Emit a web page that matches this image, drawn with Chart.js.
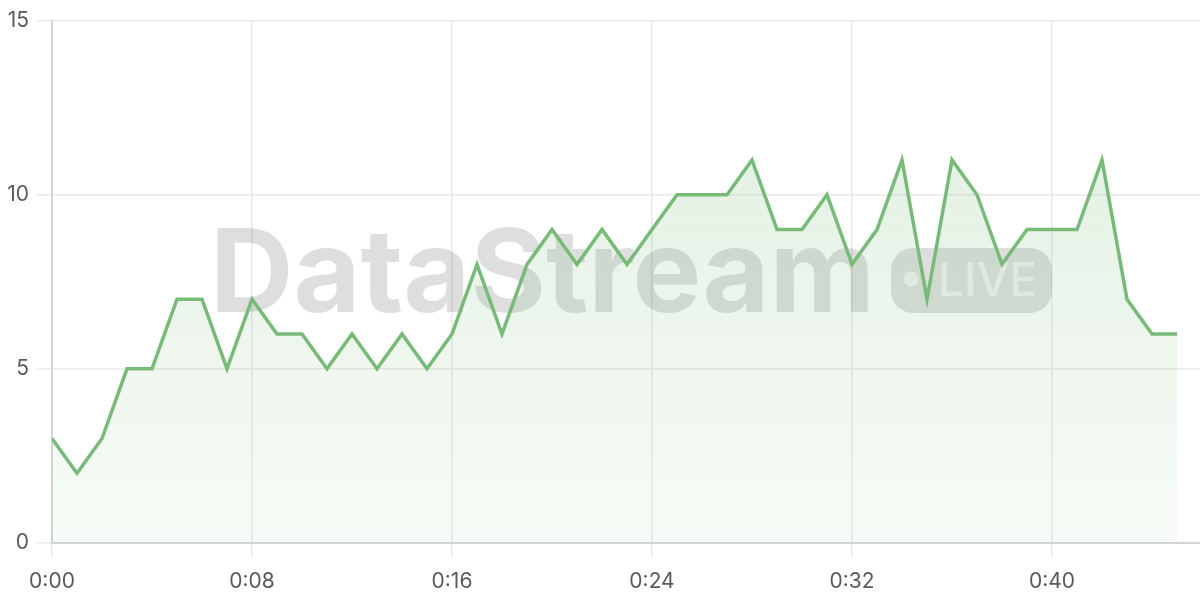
<!DOCTYPE html>
<html>
<head>
<meta charset="utf-8">
<script src="https://cdn.jsdelivr.net/npm/chart.js@4"></script>
<style>
  html, body { margin: 0; padding: 0; background: #fff; }
  #wrap { width: 1200px; height: 600px; }
</style>
</head>
<body>
<div id="wrap"><canvas id="myChart"></canvas></div>
<script>
var ctx = document.getElementById('myChart').getContext('2d');

// seconds since start, one reading per second
const seconds = [0, 1, 2, 3, 4, 5, 6, 7, 8, 9, 10, 11, 12, 13, 14, 15, 16, 17, 18, 19, 20, 21, 22,
                 23, 24, 25, 26, 27, 28, 29, 30, 31, 32, 33, 34, 35, 36, 37, 38, 39, 40, 41, 42, 43, 44, 45];
const counts = [3, 2, 3, 5, 5, 7, 7, 5, 7, 6, 6, 5, 6, 5, 6, 5, 6, 8, 6, 8, 9, 8, 9,
                8, 9, 10, 10, 10, 11, 9, 9, 10, 8, 9, 11, 7, 11, 10, 8, 9, 9, 9, 11, 7, 6, 6];
const yTicks = [0, 5, 10, 15];
const xTickStep = 8;

const green = 'rgb(120, 186, 120)';

function fmtTime(s) {
    const m = Math.floor(s / 60);
    const r = Math.round(s % 60);
    return m + ':' + (r < 10 ? '0' + r : r);
}

// the DataStream LIVE watermark behind the line
const watermark = {
    id: 'watermark',
    beforeDatasetsDraw(chart) {
        const c = chart.ctx;
        c.save();
        c.fillStyle = 'rgba(0, 0, 0, 0.13)';
        c.font = 'bold 112px Inter, "Liberation Sans", sans-serif';
        c.textBaseline = 'alphabetic';
        let w = c.measureText('DataStream').width;
        let size = 112 * 665 / w;
        c.font = 'bold ' + size + 'px Inter, "Liberation Sans", sans-serif';
        c.fillText('DataStream', 210, 312);

        // pill with dot and LIVE
        c.beginPath();
        c.roundRect(891, 248, 161, 65, 22);
        c.fill();
        c.fillStyle = 'rgba(255, 255, 255, 0.55)';
        c.beginPath();
        c.arc(911, 279, 7.5, 0, Math.PI * 2);
        c.fill();
        c.font = '500 48px Inter, "Liberation Sans", sans-serif';
        w = c.measureText('LIVE').width;
        c.font = '500 ' + (48 * 99 / w) + 'px Inter, "Liberation Sans", sans-serif';
        c.fillText('LIVE', 938, 296);
        c.restore();
    }
};

var myChart = new Chart(ctx, {
    type: 'line',
    data: {
        datasets: [{
            label: 'Count',
            data: seconds.map((s, i) => ({ x: s, y: counts[i] })),
            borderColor: green,
            borderWidth: 3.5,
            pointRadius: 0,
            tension: 0,
            fill: 'origin',
            backgroundColor: function (context) {
                const chart = context.chart;
                const area = chart.chartArea;
                if (!area) return 'rgba(120, 186, 120, 0.12)';
                const g = chart.ctx.createLinearGradient(0, area.top, 0, area.bottom);
                g.addColorStop(0, 'rgba(120, 186, 120, 0.24)');
                g.addColorStop(1, 'rgba(120, 186, 120, 0.06)');
                return g;
            }
        }]
    },
    options: {
        responsive: true,
        maintainAspectRatio: false,
        animation: false,
        layout: { padding: { top: 19, right: 0, left: 0, bottom: 0 } },
        plugins: {
            legend: { display: false },
            tooltip: { enabled: false }
        },
        scales: {
            x: {
                type: 'linear',
                min: 0,
                max: 45.92,
                afterFit: function (scale) { scale.height = 57; },
                grid: {
                    color: '#e9e9e9',
                    lineWidth: 1.5,
                    tickLength: 15
                },
                border: { color: '#d4d4d4', width: 2 },
                ticks: {
                    stepSize: xTickStep,
                    includeBounds: false,
                    maxRotation: 0,
                    padding: 11,
                    color: '#5a5a5a',
                    font: { family: 'Inter, "Liberation Sans", sans-serif', size: 21 },
                    callback: function (v) { return fmtTime(v); }
                }
            },
            y: {
                min: 0,
                max: 15,
                afterFit: function (scale) { scale.width = 52; },
                afterBuildTicks: function (scale) {
                    scale.ticks = yTicks.map(v => ({ value: v }));
                },
                grid: {
                    color: '#e9e9e9',
                    lineWidth: 1.5,
                    tickLength: 15
                },
                border: { color: '#d4d4d4', width: 2 },
                ticks: {
                    padding: 8,
                    color: '#5a5a5a',
                    font: { family: 'Inter, "Liberation Sans", sans-serif', size: 21 }
                }
            }
        }
    },
    plugins: [watermark]
});
</script>
</body>
</html>
